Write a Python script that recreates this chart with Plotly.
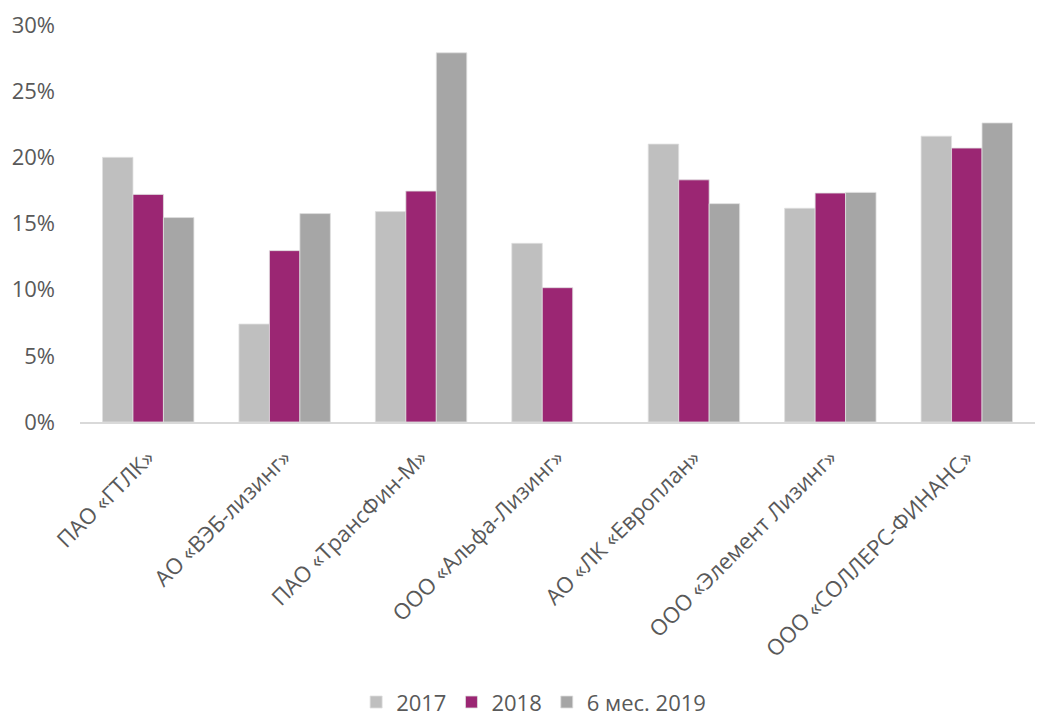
import plotly.graph_objects as go

categories = ["ПАО «ГТЛК»", "АО «ВЭБ-лизинг»", "ПАО «ТрансФин-М»", "ООО «Альфа-Лизинг»",
              "АО «ЛК «Европлан»", "ООО «Элемент Лизинг»", "ООО «СОЛЛЕРС-ФИНАНС»"]
v2017 = [20.0, 7.4, 15.9, 13.5, 21.0, 16.15, 21.6]
v2018 = [17.2, 12.95, 17.45, 10.15, 18.3, 17.3, 20.7]
v2019 = [15.45, 15.75, 27.9, None, 16.5, 17.35, 22.6]
series_names = ["2017", "2018", "6 мес. 2019"]
colors = ["#BFBFBF", "#9B2673", "#A6A6A6"]

fig = go.Figure()
for name, vals, col in zip(series_names, [v2017, v2018, v2019], colors):
    fig.add_trace(go.Bar(
        x=categories, y=[None if v is None else v / 100 for v in vals], name=name,
        marker=dict(color=col, line=dict(color="#E0E0E0", width=0.8)),
    ))

font_family = "Open Sans, Noto Sans, sans-serif"
fig.update_layout(
    width=1039, height=718,
    margin=dict(l=80, r=4, t=25, b=296, autoexpand=False),
    paper_bgcolor="white", plot_bgcolor="white",
    barmode="group", bargap=0.33, bargroupgap=0,
    font=dict(family=font_family, color="#595959"),
    showlegend=True,
    legend=dict(orientation="h", x=0.475, xanchor="center", yref="container", y=0.022, yanchor="middle",
                font=dict(size=22, color="#595959"), itemwidth=30, traceorder="normal"),
    xaxis=dict(tickangle=-45, tickfont=dict(size=22, color="#595959"), automargin=False,
               ticklabelstandoff=12,
               showline=True, linecolor="#D9D9D9", linewidth=2, ticks="", showgrid=False),
    yaxis=dict(range=[0, 0.30], dtick=0.05, tickformat=".0%", showgrid=False, automargin=False,
               zeroline=False, showline=False, ticks="", ticklen=0, ticklabelstandoff=24,
               tickfont=dict(size=22, color="#595959")),
)
fig.write_html("out.html")
